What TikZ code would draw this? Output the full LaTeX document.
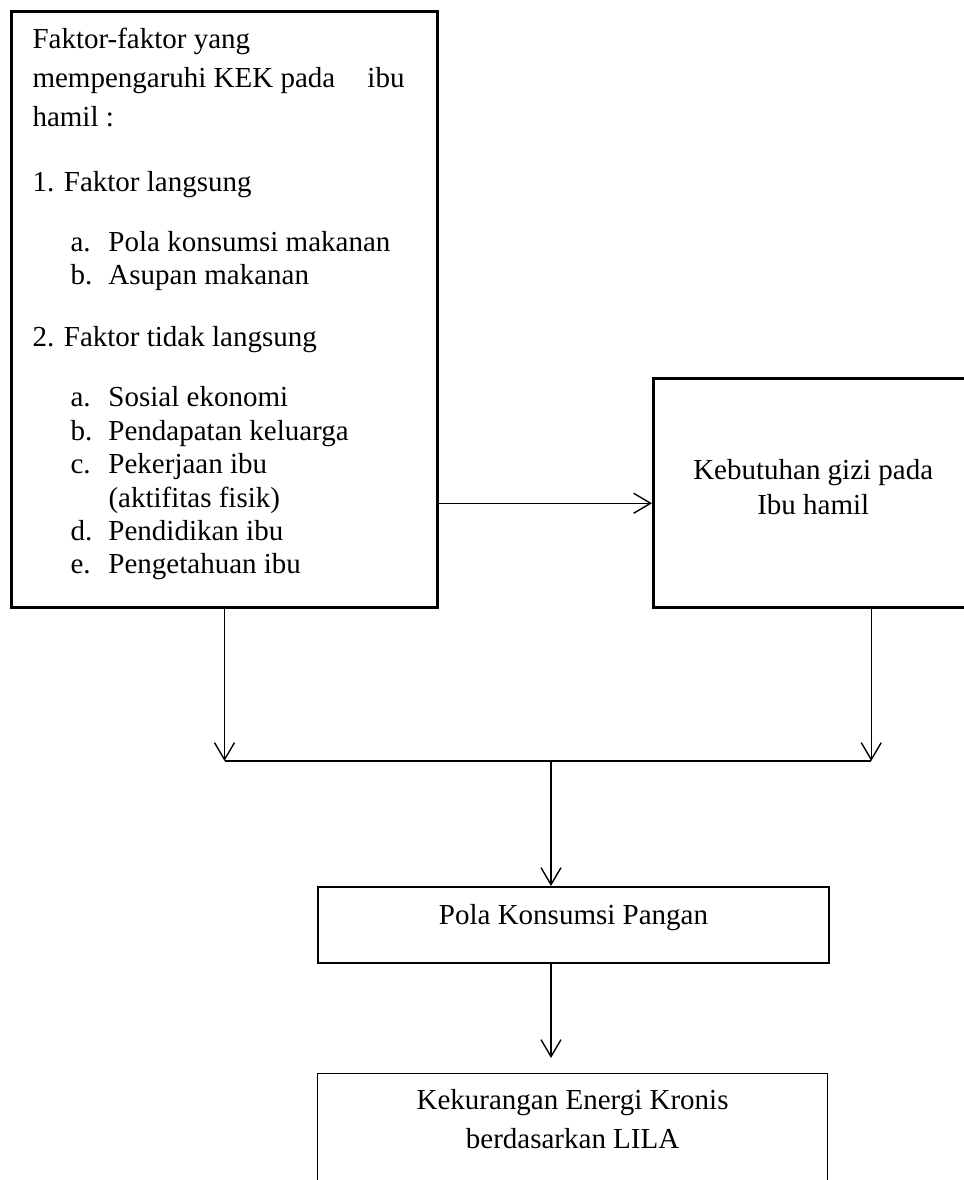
\documentclass[tikz,border=0pt]{standalone}
\usepackage{fontspec}
\setmainfont{Liberation Serif}
\usepackage{tikz}
\usetikzlibrary{arrows.meta}

\begin{document}
\begin{tikzpicture}[x=0.5pt,y=-0.5pt,font=\fontsize{14.5}{16.7}\selectfont,
  main box/.style={rectangle,draw,inner sep=0pt,anchor=north west},
  tip/.style={-{Straight Barb[length=8.5pt,width=10pt]},line width=0.7pt}]
        \useasboundingbox (0,0) rectangle (964,1180);
        \clip (0,0) rectangle (964,1180);
        		%nodes
        			  \node[main box,line width=1.5pt] (1) at (10,10) {\parbox[t][298pt][t]{213pt}{\raggedright\leftskip=10.5pt\rightskip=16.5pt plus 1fil
        			    \rule{0pt}{18.5pt}Faktor-faktor yang\\[2.8pt]
        			    mempengaruhi KEK pada\hfill ibu\\[2.8pt]
        			    hamil :\\[15.8pt]
        			    1. Faktor langsung\\[13.3pt]
        			    \hspace*{19pt}\makebox[19pt][l]{a.}Pola konsumsi makanan\\
        			    \hspace*{19pt}\makebox[19pt][l]{b.}Asupan makanan\\[14.3pt]
        			    2. Faktor tidak langsung\\[13.3pt]
        			    \hspace*{19pt}\makebox[19pt][l]{a.}Sosial ekonomi\\
        			    \hspace*{19pt}\makebox[19pt][l]{b.}Pendapatan keluarga\\
        			    \hspace*{19pt}\makebox[19pt][l]{c.}Pekerjaan ibu\\
        			    \hspace*{38pt}(aktifitas fisik)\\
        			    \hspace*{19pt}\makebox[19pt][l]{d.}Pendidikan ibu\\
        			    \hspace*{19pt}\makebox[19pt][l]{e.}Pengetahuan ibu}};
        			  \node[main box,line width=1.25pt,minimum width=160pt,minimum height=114.5pt] (2) at (652,377)
        			    {\parbox{140pt}{\centering\fontsize{14.5}{17.5}\selectfont Kebutuhan gizi pada\\ Ibu hamil\par\vspace{6pt}}};
        			  \node[main box,line width=1pt,minimum width=255.5pt,minimum height=38pt,text height=10pt,text depth=10.5pt] (3) at (317,886) {Pola Konsumsi Pangan};
        			  \node[main box,line width=0.6pt] (4) at (317,1073)
        			    {\parbox[t][60pt][t]{255pt}{\centering\fontsize{14.5}{19.5}\selectfont\rule{0pt}{18pt}Kekurangan Energi Kronis\\ berdasarkan LILA}};
        			  \coordinate (m) at (551,761);
        			  \coordinate (p) at ([yshift=-5.25pt]2.west);
        			  \coordinate (q) at ([xshift=29pt]2.south);
        			  \path (m |- 4.north) ++(0,-15) coordinate (s);
        		%Edges
        			  \path (1.east |- p) edge [tip] (p);
        			  \path (1.south) edge [tip] (1.south |- m);
        			  \path (q) edge [tip] (q |- m);
        			  \draw[line width=0.7pt] (1.south |- m) -- (q |- m);
        			  \path (m) edge [tip] (m |- 3.north);
        			  \path (m |- 3.south) edge [tip] (s);
        \end{tikzpicture}
\end{document}
